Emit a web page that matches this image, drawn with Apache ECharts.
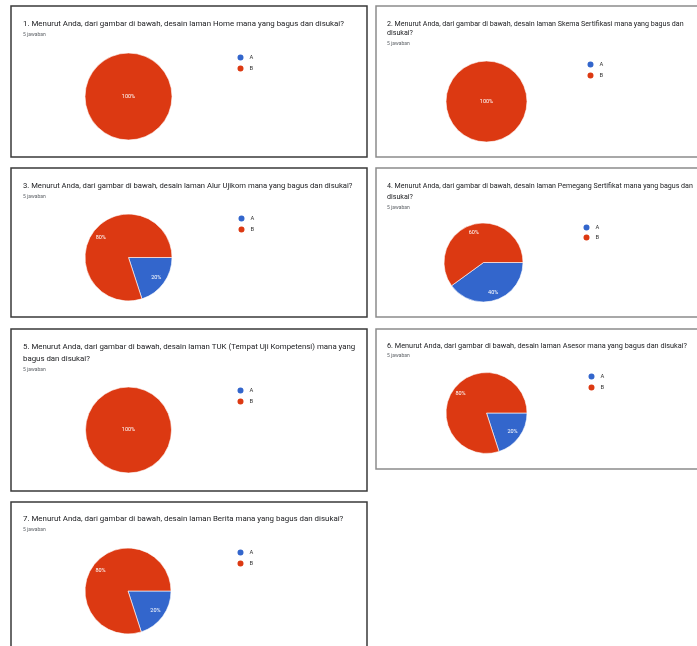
<!DOCTYPE html>
<html>
<head>
<meta charset="utf-8">
<script src="https://cdn.jsdelivr.net/npm/echarts@6/dist/echarts.min.js"></script>
<style>
html, body {margin: 0; padding: 0; background: #fff;}
#chart {width: 697px; height: 646px;}
</style>
</head>
<body>
<div id="chart"></div>
<script>
// pertanyaan survei (7 panel)
const questions = [
    '1. Menurut Anda, dari gambar di bawah, desain laman Home mana yang bagus dan disukai?',
    '2. Menurut Anda, dari gambar di bawah, desain laman Skema Sertifikasi mana yang bagus dan\ndisukai?',
    '3. Menurut Anda, dari gambar di bawah, desain laman Alur Ujikom mana yang bagus dan disukai?',
    '4. Menurut Anda, dari gambar di bawah, desain laman Pemegang Sertifikat mana yang bagus dan\ndisukai?',
    '5. Menurut Anda, dari gambar di bawah, desain laman TUK (Tempat Uji Kompetensi) mana yang\nbagus dan disukai?',
    '6. Menurut Anda, dari gambar di bawah, desain laman Asesor mana yang bagus dan disukai?',
    '7. Menurut Anda, dari gambar di bawah, desain laman Berita mana yang bagus dan disukai?'
];
const responses = ['5 jawaban', '5 jawaban', '5 jawaban', '5 jawaban', '5 jawaban', '5 jawaban', '5 jawaban'];
const answers = ['A', 'B'];
const pctA = [0, 0, 20, 40, 0, 20, 20];
const pctB = [100, 100, 80, 60, 100, 80, 80];

const colorA = '#3366cc';
const colorB = '#dc3912';

// tata letak tiap panel
const panels = [
    {box: [11, 6, 356, 151], dark: true, t: [23, 19], fs: 7.9, lh: 10, gap: 2, pie: [128.5, 96.5, 43.5], leg: [235.5, 52.5, 1]},
    {box: [376, 6, 340, 151], dark: false, t: [387, 19.5], fs: 7.1, lh: 9.3, gap: 2, pie: [486.5, 101.5, 40.5], leg: [585.5, 59.5, 1]},
    {box: [11, 168, 356, 149], dark: true, t: [23, 181], fs: 7.65, lh: 10, gap: 2, pie: [128.5, 257.5, 43.5], leg: [236.5, 213.5, 1]},
    {box: [376, 168, 340, 149], dark: false, t: [387, 181], fs: 7.1, lh: 11, gap: 1, pie: [483.5, 262.5, 39.5], leg: [581.5, 222.5, 0]},
    {box: [11, 329, 356, 162], dark: true, t: [23, 341], fs: 7.85, lh: 12, gap: 1, pie: [128.5, 430, 43], leg: [235.5, 385.5, 1]},
    {box: [376, 329, 340, 140], dark: false, t: [387, 341.5], fs: 7.3, lh: 9.3, gap: 1, pie: [486.5, 413, 40.5], leg: [586.5, 371.5, 1]},
    {box: [11, 502, 356, 170], dark: true, t: [23, 514], fs: 7.9, lh: 10, gap: 2, pie: [128, 591, 43], leg: [235.5, 547.5, 1]}
];

const myChart = echarts.init(document.getElementById('chart'));

let titles = [];
let legends = [];
let series = [];
let graphics = [];

panels.forEach(function (p, i) {
    graphics.push({
        type: 'rect',
        shape: {x: p.box[0], y: p.box[1], width: p.box[2], height: p.box[3]},
        style: {fill: 'none', stroke: p.dark ? '#3a3a3a' : '#8c8c8c', lineWidth: 1.5},
        silent: true
    });
    titles.push({
        left: p.t[0],
        top: p.t[1],
        padding: 0,
        itemGap: p.gap,
        text: questions[i],
        subtext: responses[i],
        textStyle: {fontFamily: 'Roboto', fontSize: p.fs, lineHeight: p.lh, fontWeight: 'normal', color: '#202124'},
        subtextStyle: {fontFamily: 'Roboto', fontSize: 5, lineHeight: 7, color: '#5f6368'}
    });
    legends.push({
        orient: 'vertical',
        left: p.leg[0],
        top: p.leg[1],
        padding: 0,
        itemGap: p.leg[2],
        itemWidth: 8,
        itemHeight: 8,
        icon: 'circle',
        selectedMode: false,
        textStyle: {fontFamily: 'Roboto', fontSize: 5.8, color: '#333'},
        data: [
            {name: answers[0], itemStyle: {color: colorA}},
            {name: answers[1], itemStyle: {color: colorB}}
        ]
    });
    let r = p.pie[2];
    series.push({
        type: 'pie',
        center: [p.pie[0], p.pie[1]],
        radius: r,
        startAngle: 0,
        clockwise: true,
        silent: true,
        animation: false,
        label: {show: false},
        labelLine: {show: false},
        itemStyle: {borderColor: '#fff', borderWidth: 0.6},
        data: [
            {name: answers[0], value: pctA[i], itemStyle: {color: colorA}},
            {name: answers[1], value: pctB[i], itemStyle: {color: colorB}}
        ]
    });
    // seri transparan hanya untuk posisi label persen
    series.push({
        type: 'pie',
        center: [p.pie[0], p.pie[1]],
        radius: [r * 0.44, r],
        startAngle: 0,
        clockwise: true,
        silent: true,
        animation: false,
        itemStyle: {color: 'rgba(0,0,0,0)'},
        labelLine: {show: false},
        label: {
            position: 'inside',
            fontFamily: 'Roboto',
            fontSize: 5.5,
            color: '#fff',
            formatter: function (d) {
                return d.value ? d.value + '%' : '';
            }
        },
        data: [
            {name: answers[0], value: pctA[i], label: {position: pctA[i] === 100 ? 'center' : 'inside'}},
            {name: answers[1], value: pctB[i], label: {position: pctB[i] === 100 ? 'center' : 'inside'}}
        ]
    });
});

myChart.setOption({
    backgroundColor: '#fff',
    animation: false,
    title: titles,
    legend: legends,
    series: series,
    graphic: graphics
});
</script>
</body>
</html>
